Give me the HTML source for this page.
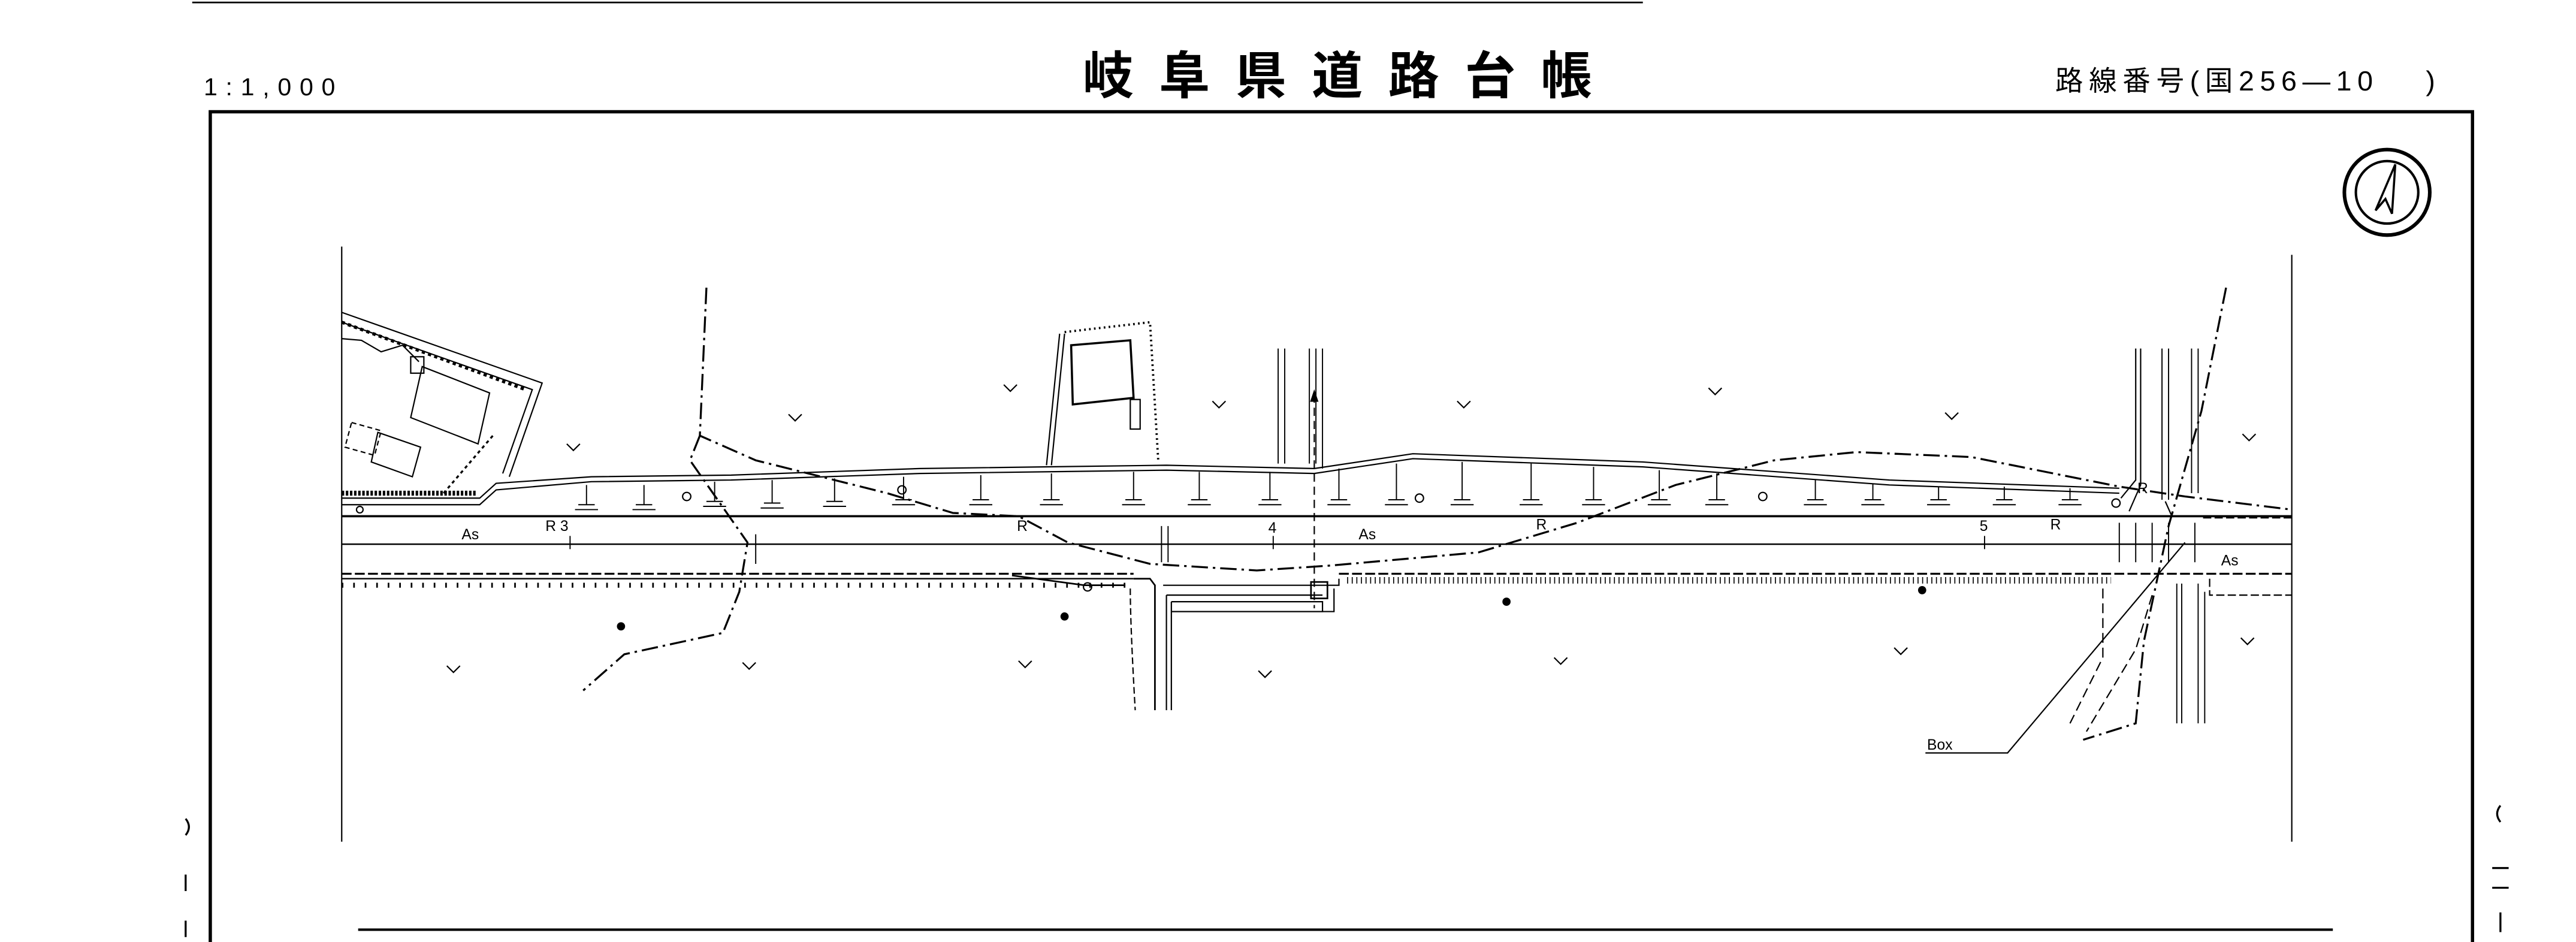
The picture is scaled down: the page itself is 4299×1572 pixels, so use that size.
<!DOCTYPE html>
<html><head><meta charset="utf-8"><style>
html,body{margin:0;padding:0;background:#fff;width:4299px;height:1572px;overflow:hidden}
svg{display:block}
text{font-family:"Liberation Sans","Noto Sans CJK JP",sans-serif;fill:#000}
</style></head><body>
<svg width="4299" height="1572" viewBox="0 0 1568 573" preserveAspectRatio="none" xmlns="http://www.w3.org/2000/svg">
<g fill="none" stroke="#000" stroke-width="0.8">
<line x1="117" y1="1.5" x2="1000" y2="1.5" stroke-width="1"/>
<path d="M128,573 V68 H1505 V573" stroke-width="2"/>
<line x1="208" y1="150" x2="208" y2="512"/>
<line x1="1395" y1="155" x2="1395" y2="512"/>
<line x1="218" y1="565.5" x2="1420" y2="565.5" stroke-width="1.5"/>
<circle cx="1453" cy="117" r="26" stroke-width="2.2"/>
<circle cx="1453" cy="117" r="19" stroke-width="1.5"/>
<path d="M1458,100 L1446,128 L1452,121 L1456,130 Z" stroke-width="1.3"/>
<line x1="208" y1="314" x2="1395" y2="314" stroke-width="1.3"/>
<line x1="208" y1="331" x2="1395" y2="331" stroke-width="0.9"/>
<line x1="208" y1="349" x2="690" y2="349" stroke-dasharray="6,2" stroke-width="1.2"/>
<line x1="815" y1="349" x2="1395" y2="349" stroke-dasharray="6,2" stroke-width="1.2"/>
<line x1="208" y1="352" x2="690" y2="352" stroke-width="0.9"/>
<path d="M208,356 H690" stroke-dasharray="1,6" stroke-width="3"/>
<path d="M820,353 H1285" stroke-dasharray="0.6,2.2" stroke-width="4"/>
<path d="M208,303 H292 L302,294 L360,290 L445,289 L560,285 L710,283 L800,285 L860,276 L1000,281 L1150,292 L1290,297"/>
<path d="M208,307 H292 L302,298 L360,293 L445,292 L560,288 L710,286 L800,288 L860,279 L1000,284 L1150,295 L1290,300"/>
<path d="M208,300 H290" stroke-dasharray="1.5,1" stroke-width="3"/>
<path d="M208,190 L330,233 L310,290"/>
<path d="M208,196 L324,237 L306,288"/>
<path d="M208,196 L320,237" stroke-dasharray="2,2" stroke-width="2"/>
<path d="M208,206 L220,207 L232,214 L245,210 L255,220"/>
<path d="M257,223 L298,239 L291,270 L250,254 Z"/>
<rect x="250" y="217" width="8" height="10"/>
<path d="M214,257 L232,262 L228,277 L210,272 Z" stroke-dasharray="3,2"/>
<path d="M230,263 L256,272 L251,290 L226,281 Z"/>
<path d="M270,300 L300,265" stroke-dasharray="2,2" stroke-width="1.2"/>
<path d="M645,203 L637,283"/><path d="M648,203 L640,283"/>
<path d="M648,202 L700,196 L705,280" stroke-dasharray="1,2" stroke-width="1.4"/>
<path d="M652,210 L688,207 L690,242 L653,246 Z" stroke-width="1.3"/>
<rect x="688" y="243" width="6" height="18"/>
<path d="M778,212 V282 M782,212 V282 M797,212 V282 M801,212 V282 M805,212 V285" stroke-width="0.7"/>
<path d="M800,240 V370" stroke-dasharray="5,3" stroke-width="0.8"/>
<path d="M800,238 l-2,6 h4z" fill="#000"/>
<path d="M690,352 L700,352 L703,356 V432" stroke-width="1"/>
<path d="M688,358 Q688,380 691,432" stroke-dasharray="4,2"/>
<path d="M708,356 H815 V352" /><path d="M710,362 V432 M713,366 V432"/>
<path d="M710,362 H805 M713,366 H805 V372 H713"/>
<path d="M713,372 H812 V358"/>
<rect x="798" y="354" width="10" height="10" stroke-width="1"/>
<path d="M616,350 L660,356 L685,356" stroke-width="1"/>
<path d="M1300,212 V292 L1291,303 M1303,212 V295 L1296,311" stroke-width="0.8"/>
<path d="M1316,212 V304 M1320,212 V304 M1334,212 V300 M1338,212 V300" stroke-width="0.7"/>
<path d="M1318,305 L1322,314" />
<path d="M1325,355 V440 M1328,355 V440 M1338,355 V440 M1342,360 V440" stroke-width="0.7"/>
<path d="M1280,358 V400 L1260,440" stroke-dasharray="6,3"/>
<path d="M1310,362 L1300,395 L1270,445" stroke-dasharray="6,3"/>
<path d="M1341,315 H1395 M1345,352 V362 H1395" stroke-dasharray="5,2"/>
<path d="M1172,458 H1222 L1330,330"/>
<g stroke-dasharray="10,3,1.5,3" stroke-width="1.2">
<path d="M430,175 L426,265 L460,280 L540,300 L580,312 L620,314 L650,330 L700,343 L765,347 L810,344 L900,336 L960,318 L1020,295 L1080,280 L1130,275 L1200,278 L1290,296 L1330,302 L1395,310"/>
<path d="M426,265 L420,280 L455,330 L450,360 L440,385 L380,398 L355,420"/>
<path d="M1355,175 L1340,250 L1320,320 L1305,390 L1300,440 L1268,450"/>
</g>
<g stroke-width="0.7">
<path d="M357,295 v12 m-5,0 h10 m-12,3 h14 M392,295 v12 m-5,0 h10 m-12,3 h14 M435,293 v12 m-5,0 h10 m-12,3 h14 M470,292 v14 m-5,0 h10 m-12,3 h14 M508,291 v14 m-5,0 h10 m-12,3 h14 M550,290 v14 m-5,0 h10 m-12,3 h14 M597,289 v15 m-5,0 h10 m-12,3 h14 M640,288 v16 m-5,0 h10 m-12,3 h14 M690,287 v17 m-5,0 h10 m-12,3 h14 M730,287 v17 m-5,0 h10 m-12,3 h14 M773,287 v17 m-5,0 h10 m-12,3 h14 M815,285 v19 m-5,0 h10 m-12,3 h14 M850,282 v22 m-5,0 h10 m-12,3 h14 M890,281 v23 m-5,0 h10 m-12,3 h14 M932,282 v22 m-5,0 h10 m-12,3 h14 M970,284 v20 m-5,0 h10 m-12,3 h14 M1010,286 v18 m-5,0 h10 m-12,3 h14 M1045,288 v16 m-5,0 h10 m-12,3 h14 M1105,292 v12 m-5,0 h10 m-12,3 h14 M1140,294 v10 m-5,0 h10 m-12,3 h14 M1180,296 v8 m-5,0 h10 m-12,3 h14 M1220,296 v8 m-5,0 h10 m-12,3 h14 M1260,297 v7 m-5,0 h10 m-12,3 h14"/>
<path d="M347,326 v8 M775,326 v8 M1208,326 v8 M460,325 v18 M707,320 v22 M711,320 v22"/>
<path d="M1290,318 v24 M1300,318 v24 M1310,318 v24 M1320,318 v24 M1336,318 v24"/>
</g>
<circle cx="418" cy="302" r="2.5"/><circle cx="549" cy="298" r="2.5"/><circle cx="864" cy="303" r="2.5"/><circle cx="1073" cy="302" r="2.5"/><circle cx="219" cy="310" r="2"/><circle cx="1288" cy="306" r="2.5"/><circle cx="662" cy="357" r="2.5"/>
<g stroke-width="0.8">
<path d="M611,234 l4,4 l4,-4 M738,244 l4,4 l4,-4 M887,244 l4,4 l4,-4 M1040,236 l4,4 l4,-4 M1184,251 l4,4 l4,-4 M1365,264 l4,4 l4,-4 M345,270 l4,4 l4,-4 M480,252 l4,4 l4,-4 M272,405 l4,4 l4,-4 M452,403 l4,4 l4,-4 M620,402 l4,4 l4,-4 M766,408 l4,4 l4,-4 M946,400 l4,4 l4,-4 M1153,394 l4,4 l4,-4 M1364,388 l4,4 l4,-4"/>
</g>
<path d="M113,498 q4,5 0,10 M113,532 v10 M113,560 v10 M1522,490 q-4,5 0,10 M1517,528 h10 M1517,540 h10 M1522,555 v12" stroke-width="1.2"/>
</g>
<g fill="#000">
<circle cx="378" cy="381" r="2.5"/><circle cx="648" cy="375" r="2.5"/><circle cx="917" cy="366" r="2.5"/><circle cx="1170" cy="359" r="2.5"/>
</g>
<text x="124" y="58" font-size="15" letter-spacing="5">1:1,000</text>
<text x="659" y="57" font-size="31" font-weight="bold" letter-spacing="15.5">岐阜県道路台帳</text>
<text x="1251" y="55" font-size="17" letter-spacing="3.5">路線番号(国256—10　 )</text>
<g font-size="9">
<text x="281" y="328">As</text><text x="332" y="323">R 3</text><text x="619" y="323">R</text><text x="772" y="324">4</text>
<text x="827" y="328">As</text><text x="935" y="322">R</text><text x="1205" y="323">5</text><text x="1248" y="322">R</text>
<text x="1301" y="300">R</text><text x="1352" y="344">As</text><text x="1173" y="456">Box</text>
</g>
</svg>
</body></html>
